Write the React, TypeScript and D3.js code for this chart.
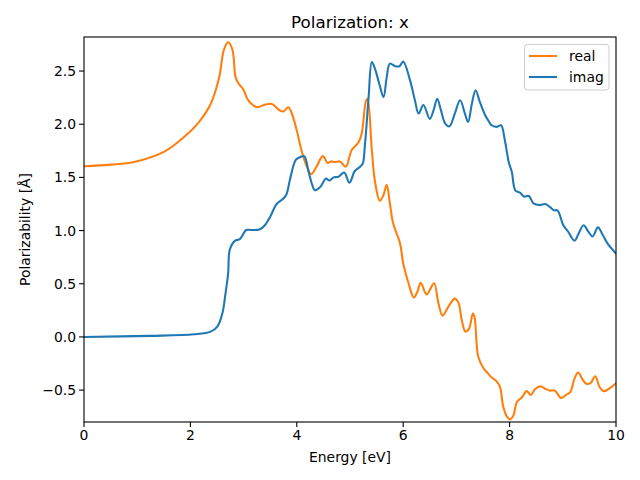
import React from "react";
import * as d3 from "d3";

const realX = [0, 0.5, 0.94, 1.5, 1.88, 2.16, 2.38, 2.54, 2.63, 2.71, 2.79, 2.85, 2.91, 2.99, 3.07, 3.13, 3.25, 3.38, 3.53, 3.68, 3.75, 3.84, 3.9, 4.0, 4.09, 4.19, 4.27, 4.37, 4.49, 4.58, 4.64, 4.72, 4.81, 4.92, 5.03, 5.16, 5.22, 5.3, 5.33, 5.41, 5.47, 5.56, 5.63, 5.69, 5.75, 5.81, 5.94, 6.0, 6.1, 6.2, 6.27, 6.33, 6.44, 6.58, 6.66, 6.74, 6.85, 6.97, 7.04, 7.1, 7.17, 7.24, 7.31, 7.34, 7.38, 7.41, 7.51, 7.58, 7.66, 7.76, 7.82, 7.88, 7.95, 8.01, 8.07, 8.14, 8.23, 8.32, 8.4, 8.48, 8.58, 8.68, 8.76, 8.85, 8.97, 9.06, 9.14, 9.22, 9.29, 9.37, 9.44, 9.52, 9.61, 9.69, 9.77, 9.89, 10.0];
const realY = [1.605, 1.62, 1.645, 1.74, 1.88, 2.02, 2.19, 2.44, 2.7, 2.77, 2.7, 2.44, 2.38, 2.33, 2.24, 2.2, 2.16, 2.18, 2.19, 2.13, 2.12, 2.16, 2.11, 1.94, 1.75, 1.6, 1.53, 1.6, 1.7, 1.635, 1.65, 1.645, 1.65, 1.6, 1.755, 1.83, 1.91, 2.22, 2.24, 1.76, 1.46, 1.28, 1.335, 1.43, 1.255, 1.07, 0.88, 0.69, 0.505, 0.37, 0.43, 0.51, 0.4, 0.505, 0.32, 0.2, 0.285, 0.36, 0.32, 0.16, 0.05, 0.08, 0.22, 0.19, -0.06, -0.185, -0.295, -0.335, -0.38, -0.42, -0.47, -0.655, -0.75, -0.775, -0.74, -0.61, -0.57, -0.51, -0.545, -0.49, -0.465, -0.49, -0.505, -0.505, -0.575, -0.545, -0.52, -0.39, -0.335, -0.4, -0.44, -0.435, -0.37, -0.47, -0.51, -0.48, -0.435];

const imagX = [0, 1.25, 2.07, 2.38, 2.51, 2.6, 2.66, 2.71, 2.74, 2.84, 2.93, 3.05, 3.15, 3.3, 3.4, 3.5, 3.62, 3.72, 3.8, 3.87, 3.98, 4.06, 4.14, 4.22, 4.28, 4.34, 4.44, 4.55, 4.61, 4.69, 4.78, 4.89, 4.99, 5.09, 5.19, 5.24, 5.28, 5.35, 5.41, 5.47, 5.55, 5.63, 5.69, 5.75, 5.85, 5.93, 6.0, 6.13, 6.22, 6.29, 6.38, 6.5, 6.57, 6.64, 6.71, 6.79, 6.87, 6.97, 7.07, 7.16, 7.22, 7.29, 7.36, 7.44, 7.54, 7.6, 7.66, 7.76, 7.84, 7.91, 7.99, 8.04, 8.11, 8.2, 8.27, 8.36, 8.45, 8.56, 8.67, 8.76, 8.84, 8.9, 9.01, 9.1, 9.22, 9.3, 9.39, 9.48, 9.56, 9.66, 9.75, 9.84, 10.0];
const imagY = [0.0, 0.01, 0.025, 0.05, 0.1, 0.22, 0.41, 0.6, 0.82, 0.905, 0.92, 1.005, 1.005, 1.01, 1.05, 1.13, 1.25, 1.29, 1.335, 1.475, 1.665, 1.69, 1.7, 1.555, 1.445, 1.38, 1.41, 1.49, 1.47, 1.5, 1.505, 1.545, 1.45, 1.56, 1.6, 1.63, 1.8, 2.255, 2.585, 2.52, 2.38, 2.255, 2.44, 2.57, 2.545, 2.545, 2.59, 2.41, 2.225, 2.1, 2.18, 2.05, 2.13, 2.24, 2.13, 2.005, 1.98, 2.1, 2.225, 2.1, 2.02, 2.19, 2.32, 2.21, 2.085, 2.035, 1.99, 1.975, 1.99, 1.85, 1.63, 1.555, 1.375, 1.355, 1.32, 1.325, 1.255, 1.24, 1.25, 1.22, 1.19, 1.19, 1.05, 0.99, 0.905, 0.975, 1.05, 0.99, 0.945, 1.03, 0.96, 0.88, 0.785];

const xTicks = [0, 2, 4, 6, 8, 10];
const yTicks = [-0.5, 0, 0.5, 1.0, 1.5, 2.0, 2.5];
const seriesNames = ["real", "imag"];
const seriesColors = ["#ff7f0e", "#1f77b4"];

const W = 640, H = 480;
const L = 84, R = 616, T = 37, B = 422;
const FONT = "DejaVu Sans, sans-serif";

export default function App() {
  const x = d3.scaleLinear().domain([0, 10]).range([L, R]);
  const y = d3.scaleLinear().domain([-0.8, 2.82]).range([B, T]);
  const line = d3
    .line<[number, number]>()
    .x((d) => x(d[0]))
    .y((d) => y(d[1]))
    .curve(d3.curveCatmullRom.alpha(0.5));
  const realPts = realX.map((v, i) => [v, realY[i]] as [number, number]);
  const imagPts = imagX.map((v, i) => [v, imagY[i]] as [number, number]);
  const fmtY = (v: number) => v.toFixed(1).replace("-", "\u2212");

  return (
    <div style={{ position: "absolute", left: 0, top: 0 }}>
      <svg width={W} height={H} style={{ display: "block", background: "#fff" }} fontFamily={FONT}>
        <rect x={0} y={0} width={W} height={H} fill="#fff" />
        <defs>
          <clipPath id="plotclip">
            <rect x={L} y={T} width={R - L} height={B - T} />
          </clipPath>
        </defs>
        <g clipPath="url(#plotclip)" fill="none" strokeWidth={2.08} strokeLinejoin="round" strokeLinecap="square">
          <path d={line(realPts) || ""} stroke={seriesColors[0]} />
          <path d={line(imagPts) || ""} stroke={seriesColors[1]} />
        </g>
        <rect x={L} y={T} width={R - L} height={B - T} fill="none" stroke="#000" strokeWidth={1.1} />
        {xTicks.map((t) => (
          <g key={"x" + t}>
            <line x1={x(t)} x2={x(t)} y1={B} y2={B + 4.9} stroke="#000" strokeWidth={1.1} />
            <text x={x(t)} y={B + 18} fontSize={13.9} textAnchor="middle">{t}</text>
          </g>
        ))}
        {yTicks.map((t) => (
          <g key={"y" + t}>
            <line x1={L - 4.9} x2={L} y1={y(t)} y2={y(t)} stroke="#000" strokeWidth={1.1} />
            <text x={L - 8} y={y(t) + 5} fontSize={13.9} textAnchor="end">{fmtY(t)}</text>
          </g>
        ))}
        <text x={(L + R) / 2} y={T - 9} fontSize={16.7} textAnchor="middle">Polarization: x</text>
        <text x={(L + R) / 2} y={462} fontSize={13.9} textAnchor="middle">Energy [eV]</text>
        <text transform={`translate(30,${(T + B) / 2}) rotate(-90)`} fontSize={13.9} textAnchor="middle">Polarizability [Å]</text>
        <g>
          <rect x={524.5} y={44.5} width={84.5} height={45.5} rx={3} fill="#fff" fillOpacity={0.8} stroke="#ccc" strokeWidth={1} />
          {seriesNames.map((n, i) => (
            <g key={n}>
              <line x1={529} x2={557} y1={56 + i * 21} y2={56 + i * 21} stroke={seriesColors[i]} strokeWidth={2.08} />
              <text x={569} y={61 + i * 21} fontSize={13.9}>{n}</text>
            </g>
          ))}
        </g>
      </svg>
    </div>
  );
}
